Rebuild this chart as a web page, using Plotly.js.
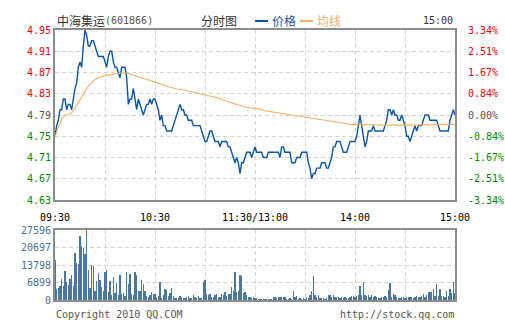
<!DOCTYPE html>
<html><head><meta charset="utf-8">
<script src="https://cdn.plot.ly/plotly-3.0.1.min.js"></script>
<style>html,body{margin:0;padding:0;background:#fff;}#chart{width:505px;height:330px;}
#chart .barlayer path{shape-rendering:crispEdges;}</style>
</head><body><div id="chart"></div>
<script>
// minute-by-minute price, 09:30 .. 11:30 / 13:00 .. 15:00 (241 points)
const prices = [
4.75,4.77,4.78,4.80,4.80,4.82,4.82,4.80,4.81,4.81,
4.80,4.82,4.84,4.85,4.88,4.89,4.88,4.92,4.95,4.94,
4.92,4.92,4.93,4.93,4.92,4.91,4.90,4.90,4.90,4.90,
4.89,4.88,4.90,4.91,4.91,4.89,4.88,4.88,4.87,4.86,
4.88,4.88,4.88,4.86,4.81,4.82,4.82,4.84,4.82,4.80,
4.82,4.81,4.80,4.79,4.80,4.81,4.81,4.82,4.81,4.82,
4.82,4.81,4.80,4.78,4.79,4.77,4.77,4.76,4.76,4.76,
4.76,4.77,4.78,4.79,4.80,4.81,4.80,4.80,4.79,4.79,
4.78,4.78,4.78,4.77,4.77,4.77,4.77,4.77,4.76,4.75,
4.74,4.74,4.75,4.76,4.76,4.75,4.74,4.74,4.74,4.73,
4.74,4.74,4.74,4.74,4.73,4.73,4.72,4.71,4.70,4.71,
4.70,4.68,4.70,4.70,4.71,4.72,4.72,4.72,4.71,4.72,
4.73,4.72,4.72,4.72,4.72,4.71,4.71,4.71,4.72,4.72,
4.72,4.72,4.72,4.72,4.72,4.71,4.73,4.73,4.72,4.72,
4.72,4.72,4.70,4.70,4.70,4.71,4.71,4.71,4.72,4.72,
4.72,4.72,4.70,4.69,4.67,4.68,4.68,4.69,4.69,4.69,
4.70,4.70,4.70,4.69,4.69,4.70,4.71,4.73,4.73,4.74,
4.74,4.74,4.73,4.72,4.72,4.72,4.73,4.74,4.74,4.74,
4.74,4.75,4.77,4.79,4.77,4.75,4.73,4.74,4.76,4.76,
4.76,4.77,4.76,4.76,4.76,4.76,4.76,4.76,4.77,4.78,
4.80,4.80,4.79,4.80,4.79,4.79,4.78,4.78,4.79,4.78,
4.77,4.75,4.75,4.74,4.75,4.76,4.77,4.76,4.77,4.77,
4.77,4.78,4.79,4.79,4.79,4.78,4.78,4.78,4.78,4.78,
4.77,4.76,4.76,4.76,4.76,4.76,4.76,4.78,4.79,4.80,4.79
];
// minute volume (lots)
const volumes = [
15600,4200,4700,5500,8100,5500,11400,7100,5800,8400,
9700,5500,18700,14600,14200,25200,21300,20500,18100,27596,
11800,4700,13700,13400,3500,7500,10500,7900,5000,3700,
11000,11800,3200,7500,2100,9100,2900,6600,1800,9700,
2400,2900,1600,11000,6200,10200,2200,2000,11000,9700,
3500,3500,7900,6200,3500,1600,1200,1800,3200,2400,
2200,1300,1600,7100,900,1800,4300,3900,1600,2800,
4700,1600,900,900,900,1600,1200,900,900,1300,
1600,700,900,1800,1100,900,1600,900,900,7100,
7900,2200,2000,2400,1100,1300,2000,2400,1300,1300,
2400,2000,3200,1600,2200,2200,5100,3500,11000,3200,
3500,10000,9500,2900,3200,1800,1300,1300,900,1300,
900,800,500,400,500,400,400,400,500,400,
500,1100,1300,800,1200,1300,1200,1300,1300,400,
400,900,400,3500,1100,1600,500,900,400,800,
500,1300,900,1800,3500,9500,2000,1300,1800,800,
800,800,500,900,2000,2000,1200,2000,1300,1300,
1300,800,1300,800,1200,800,800,1300,1600,1400,
1300,1400,1800,5500,1800,7100,1800,1600,1800,1300,
1800,1300,1600,1200,800,800,1100,1300,1600,1200,
3900,6600,1300,2200,1800,1300,800,800,1100,1300,
900,1300,1100,1200,1200,900,1300,1600,1200,1300,
1600,2200,1200,1800,3200,3200,3200,4200,1600,6200,
1600,4200,1600,1600,1300,3500,1600,4500,2900,7100,2900
];
// average price line (均线), read at these minutes
const avgMinutes = [0,2,4,6,8,10,12,14,16,18,20,22,24,26,28,31,34,37,40,43,46,49,52,55,58,61,64,67,70,73,76,79,82,86,90,94,98,102,106,110,114,118,122,126,130,134,138,142,146,150,154,158,162,166,170,174,178,182,190,200,210,220,230,240];
const avgPrices = [4.750,4.768,4.783,4.789,4.792,4.794,4.803,4.814,4.825,4.835,4.844,4.850,4.857,4.860,4.862,4.865,4.866,4.868,4.869,4.869,4.866,4.863,4.860,4.857,4.855,4.852,4.848,4.844,4.841,4.839,4.838,4.836,4.833,4.831,4.828,4.825,4.822,4.817,4.813,4.809,4.805,4.803,4.802,4.798,4.796,4.793,4.791,4.789,4.788,4.786,4.783,4.781,4.779,4.777,4.775,4.773,4.772,4.772,4.771,4.771,4.771,4.772,4.772,4.772];

const timeTickMinutes = [0,30,60,90,120,150,180,210,240];
const timeTickLabels = ['09:30','','10:30','','11:30/13:00','','14:00','','15:00'];
const priceTicks = [4.63,4.67,4.71,4.75,4.79,4.83,4.87,4.91,4.95];
const priceTickLabels = ['4.63','4.67','4.71','4.75','4.79','4.83','4.87','4.91','4.95'];
const pctTickLabels = ['-3.34%','-2.51%','-1.67%','-0.84%','0.00%','0.84%','1.67%','2.51%','3.34%'];
const volTicks = [0,6899,13798,20697,27596];
const volTickLabels = ['0','6899','13798','20697','27596'];
const prevClose = 4.79;

const minuteIndex = prices.map((_, i) => i);
const W = 505, H = 330;
const px = x => x / W;
const py = y => 1 - y / H;

const RED = '#ff0000', GREEN = '#008a00', NEUTRAL = '#555555';
const colorFor = v => v > prevClose + 1e-9 ? RED : (v < prevClose - 1e-9 ? GREEN : NEUTRAL);
const colored = (labels) => labels.map((t, i) => '<span style="color:' + colorFor(priceTicks[i]) + '">' + t + '</span>');

const MONO = 'DejaVu Sans Mono';
const CJK = 'Noto Sans CJK SC';
const BLUE = '#0a55a8', ORANGE = '#f5b064', VOL = '#4a78a0';
const GRID = '#d4d4d4', FRAME = '#8c8c8c';

const traces = [
  {x: minuteIndex, y: prices, type: 'scatter', mode: 'lines', line: {color: BLUE, width: 1.4}, xaxis: 'x', yaxis: 'y', hoverinfo: 'skip'},
  {x: avgMinutes, y: avgPrices, type: 'scatter', mode: 'lines', line: {color: ORANGE, width: 1.1}, xaxis: 'x', yaxis: 'y', hoverinfo: 'skip'},
  {x: [0], y: [prevClose], type: 'scatter', mode: 'markers', marker: {opacity: 0}, xaxis: 'x', yaxis: 'y3', hoverinfo: 'skip'},
  {x: minuteIndex, y: volumes, type: 'bar', marker: {color: VOL, line: {width: 0}}, width: 0.62, xaxis: 'x2', yaxis: 'y2', hoverinfo: 'skip'}
];

const commonX = {
  range: [0, 240], tickvals: timeTickMinutes, showgrid: true, gridcolor: GRID, griddash: '4px,3px', gridwidth: 1,
  showline: true, mirror: true, linecolor: FRAME, linewidth: 2, ticks: '', zeroline: false, fixedrange: true
};

const layout = {
  width: W, height: H, margin: {l: 0, r: 0, t: 0, b: 0},
  paper_bgcolor: '#ffffff', plot_bgcolor: '#ffffff', showlegend: false,
  xaxis: Object.assign({}, commonX, {domain: [px(55), px(455)], anchor: 'y', ticktext: timeTickLabels,
    tickfont: {family: MONO, size: 10, color: '#000'}, ticklabelstandoff: 7}),
  yaxis: {domain: [py(200), py(30)], range: [4.63, 4.95], anchor: 'x', tickvals: priceTicks, ticktext: colored(priceTickLabels),
    showgrid: true, gridcolor: GRID, griddash: '4px,3px', gridwidth: 1, showline: true, mirror: true, linecolor: FRAME, linewidth: 2,
    ticks: '', zeroline: false, tickfont: {family: MONO, size: 10}, fixedrange: true},
  yaxis3: {overlaying: 'y', side: 'right', anchor: 'x', range: [4.63, 4.95], tickvals: priceTicks, ticktext: colored(pctTickLabels),
    showgrid: false, showline: false, ticks: '', zeroline: false, tickfont: {family: MONO, size: 10}, ticklabelstandoff: 12, fixedrange: true},
  xaxis2: Object.assign({}, commonX, {domain: [px(55), px(455)], anchor: 'y2', showticklabels: false}),
  yaxis2: {domain: [py(300), py(230)], range: [0, 27596], anchor: 'x2', tickvals: volTicks, ticktext: volTickLabels,
    showgrid: true, gridcolor: GRID, griddash: '4px,3px', gridwidth: 1, showline: true, mirror: true, linecolor: FRAME, linewidth: 2,
    ticks: '', zeroline: false, tickfont: {family: MONO, size: 10, color: '#4a6f98'}, fixedrange: true},
  shapes: [
    {type: 'line', xref: 'paper', yref: 'paper', x0: px(255), x1: px(268), y0: py(21), y1: py(21), line: {color: BLUE, width: 2}},
    {type: 'line', xref: 'paper', yref: 'paper', x0: px(300), x1: px(313), y0: py(21), y1: py(21), line: {color: ORANGE, width: 2}}
  ],
  annotations: [
    {text: '中海集运', xref: 'paper', yref: 'paper', x: px(55), y: py(21), xanchor: 'left', yanchor: 'middle', showarrow: false, font: {family: CJK, size: 12, color: '#333'}},
    {text: '(601866)', xref: 'paper', yref: 'paper', x: px(103), y: py(21), xanchor: 'left', yanchor: 'middle', showarrow: false, font: {family: MONO, size: 10, color: '#555'}},
    {text: '分时图', xref: 'paper', yref: 'paper', x: px(199), y: py(21), xanchor: 'left', yanchor: 'middle', showarrow: false, font: {family: CJK, size: 12, color: '#333'}},
    {text: '价格', xref: 'paper', yref: 'paper', x: px(270), y: py(21), xanchor: 'left', yanchor: 'middle', showarrow: false, font: {family: CJK, size: 12, color: '#1b5aa3'}},
    {text: '均线', xref: 'paper', yref: 'paper', x: px(315), y: py(21), xanchor: 'left', yanchor: 'middle', showarrow: false, font: {family: CJK, size: 12, color: ORANGE}},
    {text: '15:00', xref: 'paper', yref: 'paper', x: px(455), y: py(21), xanchor: 'right', yanchor: 'middle', showarrow: false, font: {family: MONO, size: 10, color: '#333'}},
    {text: 'Copyright 2010 QQ.COM', xref: 'paper', yref: 'paper', x: px(54), y: py(314), xanchor: 'left', yanchor: 'middle', showarrow: false, font: {family: MONO, size: 10, color: '#555'}},
    {text: 'http://stock.qq.com', xref: 'paper', yref: 'paper', x: px(456), y: py(314), xanchor: 'right', yanchor: 'middle', showarrow: false, font: {family: MONO, size: 10, color: '#555'}}
  ]
};

Plotly.newPlot('chart', traces, layout, {staticPlot: true, displayModeBar: false});
</script>
</body></html>
